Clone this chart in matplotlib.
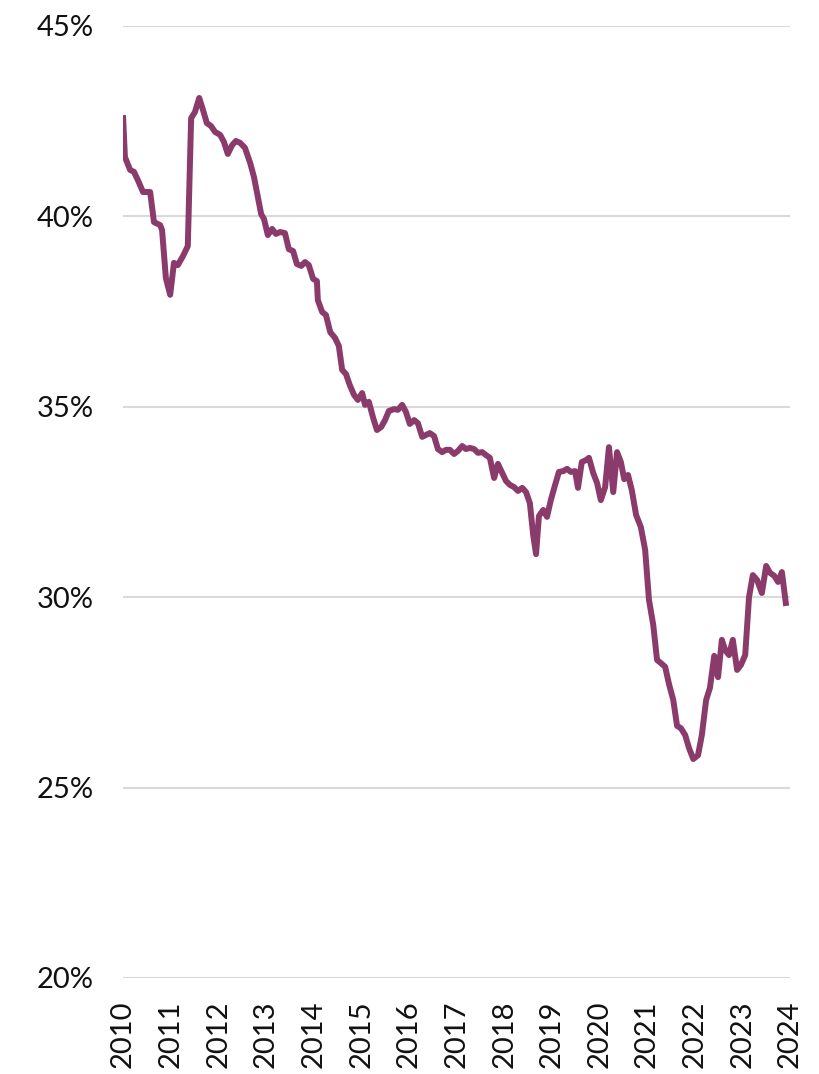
import matplotlib
matplotlib.use("Agg")
import matplotlib.pyplot as plt

# Decimal-year positions and values (%)
years = [
    2010.00, 2010.04, 2010.15, 2010.23, 2010.31, 2010.42, 2010.57, 2010.65, 2010.78, 2010.82,
    2010.90, 2010.99, 2011.07, 2011.15, 2011.26, 2011.36, 2011.43, 2011.51, 2011.60, 2011.68,
    2011.76, 2011.85, 2011.93, 2012.04, 2012.12, 2012.20, 2012.29, 2012.37, 2012.46, 2012.56,
    2012.67, 2012.75, 2012.83, 2012.90, 2012.96, 2013.04, 2013.13, 2013.21, 2013.30, 2013.40,
    2013.48, 2013.57, 2013.65, 2013.74, 2013.82, 2013.90, 2013.99, 2014.07, 2014.09, 2014.18,
    2014.26, 2014.35, 2014.45, 2014.53, 2014.60, 2014.68, 2014.76, 2014.85, 2014.93, 2015.02,
    2015.08, 2015.16, 2015.25, 2015.33, 2015.42, 2015.50, 2015.58, 2015.69, 2015.77, 2015.86,
    2015.94, 2016.02, 2016.11, 2016.19, 2016.28, 2016.36, 2016.44, 2016.53, 2016.61, 2016.70,
    2016.78, 2016.86, 2016.95, 2017.03, 2017.12, 2017.20, 2017.28, 2017.37, 2017.45, 2017.54,
    2017.62, 2017.70, 2017.79, 2017.87, 2017.96, 2018.04, 2018.12, 2018.21, 2018.29, 2018.38,
    2018.46, 2018.54, 2018.61, 2018.67, 2018.73, 2018.82, 2018.90, 2018.98, 2019.07, 2019.15,
    2019.24, 2019.32, 2019.40, 2019.49, 2019.55, 2019.63, 2019.72, 2019.78, 2019.87, 2019.95,
    2020.03, 2020.12, 2020.20, 2020.29, 2020.37, 2020.45, 2020.52, 2020.60, 2020.68, 2020.77,
    2020.87, 2020.96, 2021.04, 2021.13, 2021.21, 2021.29, 2021.38, 2021.46, 2021.55, 2021.63,
    2021.71, 2021.80, 2021.88, 2021.97, 2022.07, 2022.15, 2022.24, 2022.32, 2022.41, 2022.49,
    2022.57, 2022.64, 2022.72, 2022.80, 2022.89, 2022.97, 2023.06, 2023.14, 2023.22, 2023.31,
    2023.41, 2023.50, 2023.58, 2023.67, 2023.75, 2023.83, 2023.92,
]
values = [
    42.66, 41.56, 41.22, 41.17, 40.96, 40.64, 40.64, 39.85, 39.77, 39.64,
    38.38, 37.94, 38.78, 38.72, 38.96, 39.22, 42.58, 42.74, 43.11, 42.79,
    42.45, 42.37, 42.22, 42.14, 41.95, 41.64, 41.87, 41.98, 41.93, 41.80,
    41.40, 41.03, 40.51, 40.06, 39.93, 39.51, 39.67, 39.54, 39.59, 39.56,
    39.14, 39.09, 38.75, 38.70, 38.80, 38.72, 38.36, 38.30, 37.80, 37.49,
    37.41, 36.96, 36.81, 36.60, 35.97, 35.86, 35.57, 35.31, 35.18, 35.36,
    35.05, 35.13, 34.71, 34.39, 34.47, 34.65, 34.89, 34.94, 34.92, 35.05,
    34.86, 34.55, 34.65, 34.57, 34.21, 34.26, 34.31, 34.23, 33.89, 33.81,
    33.87, 33.87, 33.76, 33.84, 33.97, 33.89, 33.92, 33.89, 33.79, 33.81,
    33.73, 33.66, 33.13, 33.50, 33.26, 33.05, 32.95, 32.89, 32.79, 32.87,
    32.76, 32.47, 31.63, 31.13, 32.13, 32.29, 32.11, 32.55, 32.95, 33.29,
    33.31, 33.37, 33.29, 33.31, 32.87, 33.55, 33.60, 33.66, 33.26, 33.00,
    32.55, 32.89, 33.94, 32.76, 33.81, 33.55, 33.10, 33.21, 32.81, 32.16,
    31.84, 31.24, 29.93, 29.27, 28.35, 28.27, 28.17, 27.72, 27.30, 26.62,
    26.56, 26.38, 26.04, 25.75, 25.85, 26.38, 27.30, 27.62, 28.46, 27.90,
    28.88, 28.61, 28.48, 28.88, 28.09, 28.22, 28.48, 30.00, 30.58, 30.45,
    30.11, 30.82, 30.64, 30.56, 30.40, 30.66, 29.77,
]
year_ticks = list(range(2010, 2025))
y_ticks = [20, 25, 30, 35, 40, 45]
y_labels = [f"{v}%" for v in y_ticks]

plt.rcParams['font.family'] = ['Lato', 'DejaVu Sans']

fig = plt.figure(figsize=(8.2, 10.74), dpi=100)
ax = fig.add_axes([0.15, 0.0894, 0.8134, 0.8864])

ax.plot(years, values, color='#8B3B6B', linewidth=4.3,
        solid_joinstyle='round', solid_capstyle='butt', zorder=3)

ax.set_xlim(2010, 2024)
ax.set_ylim(20, 45)
ax.set_yticks(y_ticks)
ax.set_yticklabels(y_labels, fontsize=21, color='#111111')
ax.set_xticks(year_ticks)
ax.set_xticklabels([str(y) for y in year_ticks], rotation=90, fontsize=21,
                   color='#111111', va='top', ha='center')

ax.grid(axis='y', color='#d9d9d9', linewidth=1.5, zorder=0)
ax.grid(axis='x', visible=False)
for s in ax.spines.values():
    s.set_visible(False)
ax.tick_params(axis='both', length=0)
ax.tick_params(axis='y', pad=21)
ax.tick_params(axis='x', pad=16)

fig.savefig("out.png", dpi=100)
